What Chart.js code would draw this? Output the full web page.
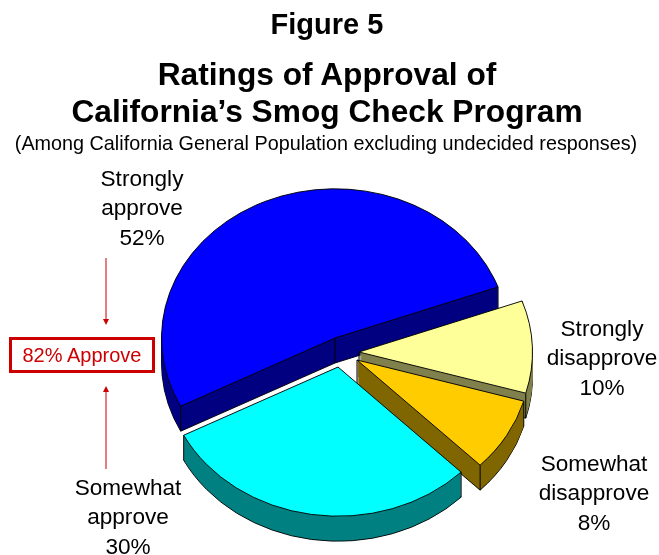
<!DOCTYPE html>
<html>
<head>
<meta charset="utf-8">
<script src="https://cdn.jsdelivr.net/npm/chart.js@4"></script>
<style>
  html, body { margin: 0; padding: 0; background: #fff; }
  #wrap { position: relative; width: 659px; height: 555px; overflow: hidden; font-family: "Liberation Sans", Arial, sans-serif; color: #000; }
  canvas { position: absolute; left: 0; top: 0; }
  .txt { position: absolute; text-align: center; white-space: nowrap; transform: translateX(-50%); }
  .title { font-weight: bold; font-size: 31.7px; line-height: 37px; }
  .fig { font-weight: bold; font-size: 29px; line-height: 36px; }
  .sub { font-size: 19.8px; line-height: 22px; }
  .lbl { font-size: 22.6px; line-height: 29.3px; }
  #approve { position: absolute; left: 9px; top: 337px; width: 140px; height: 30px; border: 3px solid #cc0000; color: #cc0000; font-size: 20px; line-height: 30px; text-align: center; }
</style>
</head>
<body>
<div id="wrap">
  <canvas id="pie" width="659" height="555"></canvas>
  <div class="txt fig" style="left:327px;top:6px">Figure 5</div>
  <div class="txt title" style="left:327px;top:56px">Ratings of Approval of</div>
  <div class="txt title" style="left:327px;top:93px">California’s Smog Check Program</div>
  <div class="txt sub" style="left:326px;top:132px">(Among California General Population excluding undecided responses)</div>
  <div id="labels"></div>
  <div id="approve">82% Approve</div>
</div>
<script>
// --- Data ---
const categories = ['Strongly approve', 'Strongly disapprove', 'Somewhat disapprove', 'Somewhat approve'];
const labelLines = [['Strongly', 'approve'], ['Strongly', 'disapprove'], ['Somewhat', 'disapprove'], ['Somewhat', 'approve']];
const values = [52, 10, 8, 30];
const topColors = ['#0000ff', '#ffff99', '#ffcc00', '#00ffff'];
const sideColors = ['#000080', '#80804d', '#806600', '#008080'];

// --- Layout ---
const CENTER_X = 335;
const CENTER_Y = 338;
const SQUASH = 0.86;
const DEPTH = 25;
const sliceShift = [[0, 0], [24, 14], [22, 22], [3, 29]];
const labelPos = [[142, 164], [602, 314], [594, 449], [128, 473]];

// Labels
const labelsEl = document.getElementById('labels');
categories.forEach((c, i) => {
  const d = document.createElement('div');
  d.className = 'txt lbl';
  d.style.left = labelPos[i][0] + 'px';
  d.style.top = labelPos[i][1] + 'px';
  d.innerHTML = labelLines[i].join('<br>') + '<br>' + values[i] + '%';
  labelsEl.appendChild(d);
});

// Draws an arc element with some options swapped for one call
function drawArc(ctx, arc, overrides) {
  const saved = arc.options;
  arc.options = Object.assign({}, saved, overrides);
  arc.draw(ctx);
  arc.options = saved;
}

// Tilted, exploded pie on top of the library's arc elements
const pie3d = {
  id: 'pie3d',
  beforeDatasetDraw(chart, args) {
    const ctx = chart.ctx;
    const arcs = args.meta.data;
    arcs.forEach((arc, i) => {
      const place = (depth) => {
        ctx.translate(CENTER_X + sliceShift[i][0], CENTER_Y + sliceShift[i][1] + depth);
        ctx.scale(1, SQUASH);
        ctx.translate(-arc.x, -arc.y);
      };

      // Bottom face with outline
      ctx.save();
      place(DEPTH);
      drawArc(ctx, arc, { backgroundColor: sideColors[i], borderColor: '#000', borderWidth: 1 });
      ctx.restore();

      // Wall
      for (let d = DEPTH - 1; d > 0; d--) {
        ctx.save();
        place(d);
        drawArc(ctx, arc, { backgroundColor: sideColors[i], borderColor: sideColors[i], borderWidth: 0 });
        ctx.restore();
      }

      // Vertical edges at the corners
      const corners = [[arc.x, arc.y],
        [arc.x + Math.cos(arc.startAngle) * arc.outerRadius, arc.y + Math.sin(arc.startAngle) * arc.outerRadius],
        [arc.x + Math.cos(arc.endAngle) * arc.outerRadius, arc.y + Math.sin(arc.endAngle) * arc.outerRadius]];
      ctx.strokeStyle = '#000';
      ctx.lineWidth = 1;
      corners.forEach((c) => {
        const px = CENTER_X + sliceShift[i][0] + (c[0] - arc.x);
        const py = CENTER_Y + sliceShift[i][1] + (c[1] - arc.y) * SQUASH;
        ctx.beginPath();
        ctx.moveTo(px, py);
        ctx.lineTo(px, py + DEPTH);
        ctx.stroke();
      });

      // Top face
      ctx.save();
      place(0);
      drawArc(ctx, arc, { backgroundColor: topColors[i], borderColor: '#000', borderWidth: 1 });
      ctx.restore();
    });
    return false;
  },
  afterDraw(chart) {
    const ctx = chart.ctx;
    drawArrow(ctx, 106, 258, 325);
    drawArrow(ctx, 106, 469, 386);
  },
};

function drawArrow(ctx, x, fromY, toY) {
  const dir = toY > fromY ? 1 : -1;
  ctx.save();
  ctx.strokeStyle = '#cc0000';
  ctx.fillStyle = '#cc0000';
  ctx.lineWidth = 1;
  ctx.beginPath();
  ctx.moveTo(x, fromY);
  ctx.lineTo(x, toY - dir * 5);
  ctx.stroke();
  ctx.beginPath();
  ctx.moveTo(x, toY);
  ctx.lineTo(x - 3, toY - dir * 6);
  ctx.lineTo(x + 3, toY - dir * 6);
  ctx.closePath();
  ctx.fill();
  ctx.restore();
}

new Chart(document.getElementById('pie'), {
  type: 'pie',
  data: {
    labels: categories,
    datasets: [{ data: values, backgroundColor: topColors, borderColor: '#000', borderWidth: 1 }],
  },
  options: {
    responsive: false,
    animation: false,
    rotation: 242.8,
    layout: { padding: { left: 161, right: 150, top: 164, bottom: 43 } },
    plugins: { legend: { display: false }, tooltip: { enabled: false } },
  },
  plugins: [pie3d],
});
</script>
</body>
</html>
